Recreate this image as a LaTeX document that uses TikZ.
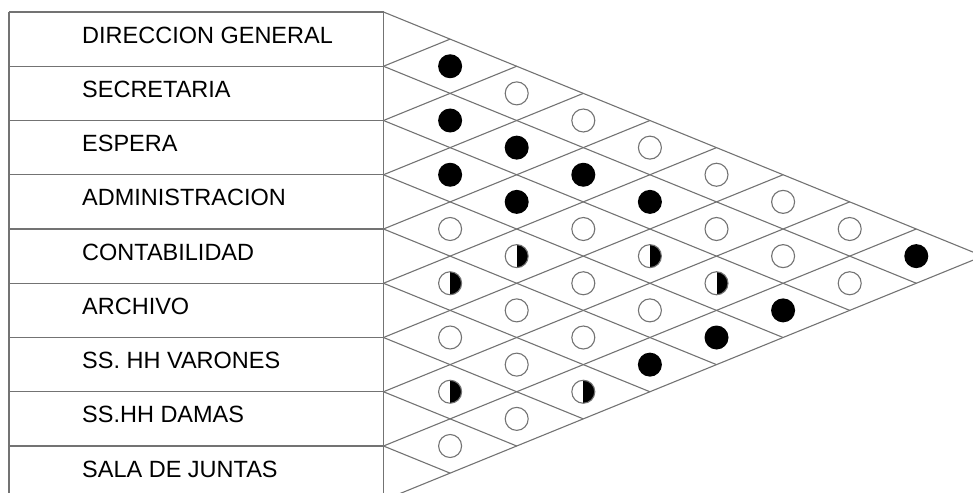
\documentclass[tikz,border=0pt]{standalone}
\usepackage{fontspec}
\setmainfont{Liberation Sans}
\definecolor{linegray}{gray}{0.45}
\tikzset{
  gridline/.style={draw=linegray, line width=1.1pt},
  rowname/.style={anchor=west, inner sep=0pt, font=\fontsize{23.5}{28}\selectfont, text=black},
  rel full/.style={circle, fill=black, minimum size=24pt, inner sep=0pt},
  rel none/.style={circle, draw=linegray, line width=1.1pt, fill=white, minimum size=23pt, inner sep=0pt},
  rel half/.style={rel none, path picture={\fill[black] (path picture bounding box.north) rectangle (path picture bounding box.south east);}},
}
\begin{document}
\begin{tikzpicture}[x=1pt,y=-1pt]
\useasboundingbox (0,0) rectangle (973,492);
\clip (0,0) rectangle (973,492);
\def\dx{66.6}
\def\hy{27.125}
% lattice points
\foreach \m in {0,...,9}{
  \coordinate (L\m) at (383.5,{12+2*\m*\hy});
  \coordinate (E\m) at (9,{12+2*\m*\hy});
  \coordinate (T\m) at ({383.5+\m*\dx},{12+\m*\hy});
  \coordinate (B\m) at ({383.5+\m*\dx},{12+(18-\m)*\hy});
}
% table
\draw[gridline] (E0) -- (E9);
\draw[gridline] (L0) -- (L9);
\foreach \m in {0,...,8}{ \draw[gridline] (E\m) -- (L\m); }
% diamonds
\foreach \m in {0,...,8}{
  \pgfmathtruncatemacro\n{9-\m}
  \draw[gridline] (L\m) -- (B\n);
}
\foreach \m in {1,...,9}{ \draw[gridline] (L\m) -- (T\m); }
% row names
\foreach \i/\txt in {0/DIRECCION GENERAL,1/SECRETARIA,2/ESPERA,3/ADMINISTRACION,4/CONTABILIDAD,5/ARCHIVO,6/SS. HH VARONES,7/SS.HH DAMAS,8/SALA DE JUNTAS}{
  \node[rowname] (r\i) at (82,{12+(2*\i+1)*\hy-4}) {\txt};
}
% relations
\foreach \i/\j/\t in {
  0/1/full,1/2/full,2/3/full,3/4/none,4/5/half,5/6/none,6/7/half,7/8/none,
  0/2/none,1/3/full,2/4/full,3/5/half,4/6/none,5/7/none,6/8/none,
  0/3/none,1/4/full,2/5/none,3/6/none,4/7/none,5/8/half,
  0/4/none,1/5/full,2/6/half,3/7/none,4/8/full,
  0/5/none,1/6/none,2/7/half,3/8/full,
  0/6/none,1/7/none,2/8/full,
  0/7/none,1/8/none,
  0/8/full}{
  \node[rel \t] (p\i\j) at ({383.5+(\j-\i)*\dx},{12+(\i+\j+1)*\hy}) {};
}
\end{tikzpicture}
\end{document}
